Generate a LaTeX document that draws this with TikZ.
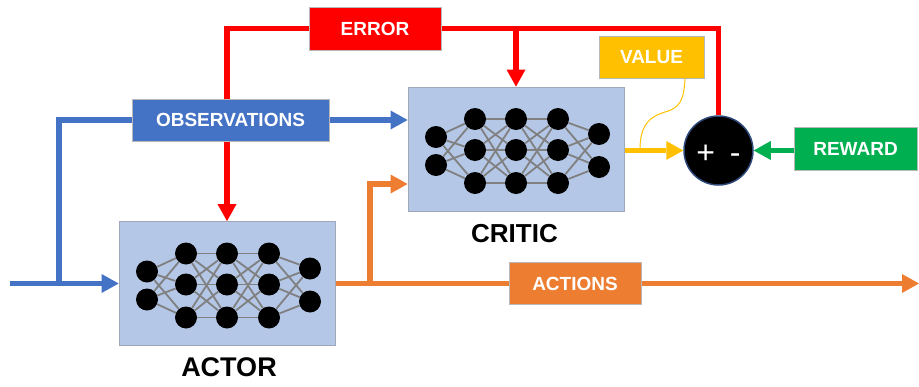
\documentclass[tikz,border=0pt]{standalone}
\usepackage{fontspec}
\setmainfont{Liberation Sans}
\usetikzlibrary{arrows.meta,backgrounds}

\definecolor{flowblue}{HTML}{4472C4}
\definecolor{floworange}{HTML}{ED7D31}
\definecolor{flowred}{HTML}{FF0000}
\definecolor{flowyellow}{HTML}{FFC000}
\definecolor{flowgreen}{HTML}{00B050}
\definecolor{netfill}{HTML}{B4C7E7}
\definecolor{netborder}{HTML}{9EA8B8}
\definecolor{synapse}{HTML}{808080}
\definecolor{sumborder}{HTML}{2F4A7A}

\tikzset{
  plain/.style={line width=5.5pt},
  flow/.style={line width=5.5pt, -{Triangle[length=17pt,width=19pt,line width=0pt]}},
  netbox/.style={draw=netborder, line width=0.8pt, fill=netfill,
    minimum width=216pt, minimum height=124pt, inner sep=0pt},
  neuron/.style={circle, fill=black, minimum size=22pt, inner sep=0pt},
  synedge/.style={draw=synapse, line width=1.8pt},
  tag/.style={draw=gray!55, line width=0.6pt, text=white,
    font=\bfseries\fontsize{19}{19}\selectfont, minimum height=42pt, inner sep=0pt},
  title/.style={font=\bfseries\fontsize{27}{27}\selectfont, inner sep=0pt},
  callout/.style={draw=flowyellow, line width=1pt},
  % fully connected 2-3-3-3-2 network, drawn around the pic origin
  pics/nnet/.style={code={
    \foreach \k/\y in {1/-12,2/16} \node[neuron] (-a\k) at (-80,\y) {};
    \foreach \k/\y in {1/-30,2/1,3/34} {
      \node[neuron] (-b\k) at (-41,\y) {};
      \node[neuron] (-c\k) at (0,\y) {};
      \node[neuron] (-d\k) at (42,\y) {};
    }
    \foreach \k/\y in {1/-15,2/18} \node[neuron] (-e\k) at (83,\y) {};
    \foreach \i in {1,2} \foreach \j in {1,2,3} {
      \draw[synedge] (-a\i) -- (-b\j);
      \draw[synedge] (-e\i) -- (-d\j);
    }
    \foreach \i in {1,2,3} \foreach \j in {1,2,3} {
      \draw[synedge] (-b\i) -- (-c\j);
      \draw[synedge] (-c\i) -- (-d\j);
    }
  }}
}

\begin{document}
\begin{tikzpicture}[x=1pt, y=-1pt]
  \useasboundingbox (0,0) rectangle (919,386);

  % networks
  \node[netbox] (actor) at (227,283.5) {};
  \node[netbox] (critic) at (516,149) {};
  \pic (anet) at (actor.center) {nnet};
  \pic (cnet) at (critic.center) {nnet};
  \node[title] (actorlbl) at (229,367.5) {ACTOR};
  \node[title, font=\bfseries\fontsize{26}{26}\selectfont] (criticlbl) at (514.5,233.5) {CRITIC};

  % signal labels
  \node[tag, fill=flowred, minimum width=132pt, minimum height=43pt] (err) at (375,28.5) {ERROR};
  \node[tag, fill=flowblue, minimum width=197pt] (obs) at (230.5,120) {OBSERVATIONS};
  \node[tag, fill=flowyellow, minimum width=105pt] (val) at (651.5,57) {VALUE};
  \node[tag, fill=flowgreen, minimum width=123pt, minimum height=43pt] (rew) at (855.5,148.5) {REWARD};
  \node[tag, fill=floworange, minimum width=132pt] (act) at (575,283.5) {ACTIONS};

  % comparator
  \node[circle, fill=black, draw=sumborder, line width=1.5pt, minimum size=69pt,
        inner sep=0pt, text=white, font=\fontsize{32}{32}\selectfont,
        text height=25.6pt, text depth=0pt] (sum) at (718.5,150.5) {+\hspace{14.8pt}-};

  % junctions and free ends
  \coordinate (src) at (10,0 |- actor.west);
  \coordinate (obr) at (59,0 |- actor.west);
  \coordinate (abr) at (370,0 |- actor.east);
  \coordinate (aout) at (919,0 |- actor.east);
  \coordinate (vtap) at (640,0 |- sum.west);

  \begin{pgfonlayer}{background}
    % error feedback
    \draw[flow, flowred] (err.west) -| (actor.north);
    \draw[plain, flowred] (err.east) -| (sum.north);
    \draw[flow, flowred] (err.east -| critic.north) -- (critic.north);
    % observations
    \draw[flow, flowblue] (src) -- (actor.west);
    \draw[plain, flowblue] (obr) |- (obs.west);
    \draw[flow, flowblue] (obs.east) -- (obs.east -| critic.west);
    % actions
    \draw[flow, floworange] (actor.east) -- (aout);
    \draw[flow, floworange] (abr) |- ([yshift=-35pt]critic.west);
    % value and reward into the comparator
    \draw[flow, flowyellow] (critic.east |- sum.west) -- (sum.west);
    \draw[flow, flowgreen] (rew.west |- sum.east) -- (sum.east);
  \end{pgfonlayer}

  % callout from the VALUE tag to the value signal
  \draw[callout] ([xshift=33.5pt]val.south) .. controls (684,100) and (680,108) .. (665,112)
                 .. controls (645,118) and (640,130) .. (vtap);
\end{tikzpicture}
\end{document}
